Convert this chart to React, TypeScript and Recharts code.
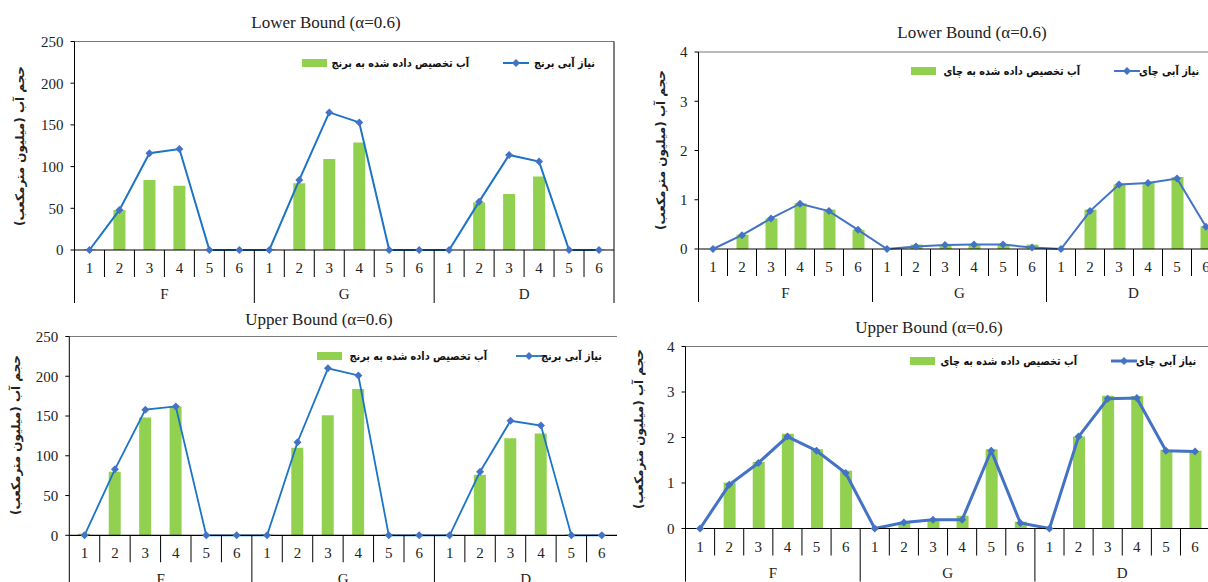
import React from "react";
import { ComposedChart, Bar, Line, XAxis, YAxis, ReferenceLine } from "recharts";

const periods = ["1", "2", "3", "4", "5", "6"];
const farms = ["F", "G", "D"];

const riceLowerAlloc = [1, 48, 84, 77, 0, 0, 1, 80, 109, 129, 0, 1, 0, 57, 67, 88, 0, 1];
const riceLowerNeed = [0, 48, 116, 121, 0, 0, 0, 84, 165, 153, 0, 0, 0, 58, 114, 106, 0, 0];
const teaLowerAlloc = [0, 0.29, 0.62, 0.93, 0.8, 0.39, 0, 0.09, 0.08, 0.08, 0.08, 0.09, 0, 0.8, 1.31, 1.34, 1.46, 0.46];
const teaLowerNeed = [0, 0.28, 0.62, 0.92, 0.77, 0.39, 0, 0.05, 0.08, 0.09, 0.09, 0.03, 0, 0.77, 1.31, 1.34, 1.43, 0.45];
const riceUpperAlloc = [2, 80, 148, 162, 0, 0, 1, 110, 151, 184, 1, 1, 1, 76, 122, 128, 1, 0];
const riceUpperNeed = [0, 83, 158, 162, 0, 0, 0, 117, 210, 201, 0, 0, 0, 80, 144, 138, 0, 0];
const teaUpperAlloc = [0, 1.01, 1.46, 2.08, 1.74, 1.27, 0, 0.12, 0.19, 0.28, 1.74, 0.15, 0, 2.02, 2.92, 2.91, 1.73, 1.71];
const teaUpperNeed = [0, 0.96, 1.44, 2.02, 1.71, 1.22, 0, 0.13, 0.19, 0.19, 1.71, 0.12, 0, 2.02, 2.85, 2.87, 1.71, 1.69];

const riceTicks = [0, 50, 100, 150, 200, 250];
const teaTicks = [0, 1, 2, 3, 4];

const riceAllocLabel = "آب تخصیص داده شده به برنج";
const riceNeedLabel = "نیاز آبی برنج";
const teaAllocLabel = "آب تخصیص داده شده به چای";
const teaNeedLabel = "نیاز آبی چای";
const yLabel = "حجم آب (میلیون مترمکعب)";

const SERIF = "'Liberation Serif', 'Times New Roman', serif";
const ARABIC = "'DejaVu Sans', sans-serif";
const GREEN = "#92D050";

function buildRows(alloc: number[], need: number[]) {
  return farms.flatMap((f, fi) =>
    periods.map((p, pi) => ({
      key: f + p,
      period: p,
      farm: f,
      alloc: alloc[fi * 6 + pi],
      need: need[fi * 6 + pi],
    }))
  );
}

const Diamond = (props: any) => {
  const { cx, cy, r, fill } = props;
  if (cx == null || cy == null) return null;
  return (
    <polygon
      points={`${cx},${cy - r} ${cx + r},${cy} ${cx},${cy + r} ${cx - r},${cy}`}
      fill={fill}
    />
  );
};

function makeTick(rows: any[], bw: number, plotH: number, rightBorder: boolean) {
  return (props: any) => {
    const { x, y, index } = props;
    const row = rows[index];
    if (!row) return <g />;
    const first = index % 6 === 0;
    return (
      <g>
        <text x={x} y={y + 23} textAnchor="middle" fontFamily={SERIF} fontSize={15} fill="#222">
          {row.period}
        </text>
        <line x1={x - bw / 2} x2={x - bw / 2} y1={y} y2={y + (first ? 53 : 27)} stroke="#000" />
        {index % 6 === 3 && (
          <text x={x - bw / 2} y={y + 49} textAnchor="middle" fontFamily={SERIF} fontSize={15} fill="#222">
            {row.farm}
          </text>
        )}
        {rightBorder && index === rows.length - 1 && (
          <line x1={x + bw / 2} x2={x + bw / 2} y1={y - plotH} y2={y + 53} stroke="#000" />
        )}
      </g>
    );
  };
}

interface LegendPos {
  rectX: number;
  y: number;
  allocRight: number;
  lineX: number;
  needRight: number;
}

interface PanelProps {
  left: number;
  top: number;
  width: number;
  plotLeft: number;
  plotRight: number;
  plotTop: number;
  plotBottom: number;
  alloc: number[];
  need: number[];
  ticks: number[];
  lineColor: string;
  lineWidth: number;
  title: string;
  titleX: number;
  titleY: number;
  labelX: number;
  labelY: number;
  legend: LegendPos;
  allocLabel: string;
  needLabel: string;
  rightBorder: boolean;
}

// DejaVu's Arabic is wider than the original's font, so squeeze it a bit
const legendText: React.CSSProperties = {
  position: "absolute",
  transform: "translateY(-50%) scaleX(0.87)",
  transformOrigin: "right center",
  fontFamily: ARABIC,
  fontWeight: "bold",
  fontSize: 11.2,
  color: "#111",
  whiteSpace: "nowrap",
  textAlign: "right",
};

function Panel(p: PanelProps) {
  const rows = buildRows(p.alloc, p.need);
  const yw = 30;
  const axisH = 60;
  const height = p.plotBottom - p.top + axisH;
  const bw = (p.plotRight - p.plotLeft) / rows.length;
  const plotH = p.plotBottom - p.plotTop;
  const max = p.ticks[p.ticks.length - 1];
  const lg = p.legend;
  return (
    <>
      <div style={{ position: "absolute", left: p.left, top: p.top }}>
        <ComposedChart
          width={p.width}
          height={height}
          data={rows}
          margin={{
            top: p.plotTop - p.top,
            left: p.plotLeft - p.left - yw,
            right: p.left + p.width - p.plotRight,
            bottom: 0,
          }}
        >
          <XAxis
            dataKey="key"
            interval={0}
            height={axisH}
            tickLine={false}
            tickSize={0}
            tickMargin={0}
            axisLine={{ stroke: "#000", strokeWidth: 1.2 }}
            tick={makeTick(rows, bw, plotH, p.rightBorder)}
          />
          <YAxis
            width={yw}
            domain={[0, max]}
            ticks={p.ticks}
            interval={0}
            tickSize={4}
            tickMargin={7}
            axisLine={{ stroke: "#000" }}
            tickLine={{ stroke: "#000" }}
            tick={{ fontFamily: SERIF, fontSize: 15, fill: "#222" }}
          />
          <ReferenceLine y={max} stroke="#777" />
          <Bar dataKey="alloc" fill={GREEN} barSize={12} isAnimationActive={false} />
          <Line
            dataKey="need"
            type="linear"
            stroke={p.lineColor}
            strokeWidth={p.lineWidth}
            dot={(d: any) => <Diamond key={d.index} cx={d.cx} cy={d.cy} r={4} fill="#4472C4" />}
            activeDot={false}
            isAnimationActive={false}
          />
        </ComposedChart>
      </div>
      <div
        style={{
          position: "absolute",
          left: p.titleX,
          top: p.titleY,
          transform: "translate(-50%, -50%)",
          fontFamily: SERIF,
          fontSize: 17,
          color: "#222",
          whiteSpace: "nowrap",
        }}
      >
        {p.title}
      </div>
      <div
        dir="rtl"
        style={{
          position: "absolute",
          left: p.labelX,
          top: p.labelY,
          transform: "translate(-50%, -50%) rotate(-90deg)",
          fontFamily: ARABIC,
          fontWeight: "bold",
          fontSize: 12,
          color: "#222",
          whiteSpace: "nowrap",
        }}
      >
        {yLabel}
      </div>
      <div
        style={{
          position: "absolute",
          left: lg.rectX,
          top: lg.y - 4,
          width: 25,
          height: 8,
          background: GREEN,
        }}
      />
      <div dir="rtl" style={{ ...legendText, right: 1208 - lg.allocRight, top: lg.y }}>
        {p.allocLabel}
      </div>
      <svg
        width={26}
        height={10}
        style={{ position: "absolute", left: lg.lineX, top: lg.y - 5 }}
      >
        <line x1={0} x2={26} y1={5} y2={5} stroke={p.lineColor} strokeWidth={p.lineWidth} />
        <polygon points="13,1 17,5 13,9 9,5" fill="#4472C4" />
      </svg>
      <div dir="rtl" style={{ ...legendText, right: 1208 - lg.needRight, top: lg.y }}>
        {p.needLabel}
      </div>
    </>
  );
}

export default function App() {
  return (
    <div
      style={{
        position: "fixed",
        left: 0,
        top: 0,
        width: 1208,
        height: 582,
        overflow: "hidden",
        background: "#fff",
      }}
    >
      <Panel
        left={0}
        top={0}
        width={620}
        plotLeft={74.5}
        plotRight={614}
        plotTop={41.5}
        plotBottom={250}
        alloc={riceLowerAlloc}
        need={riceLowerNeed}
        ticks={riceTicks}
        lineColor="#1C74C6"
        lineWidth={2}
        title="Lower Bound (α=0.6)"
        titleX={326}
        titleY={23}
        labelX={20}
        labelY={146}
        legend={{ rectX: 302, y: 63, allocRight: 469, lineX: 503, needRight: 595 }}
        allocLabel={riceAllocLabel}
        needLabel={riceNeedLabel}
        rightBorder={true}
      />
      <Panel
        left={620}
        top={0}
        width={610}
        plotLeft={698.5}
        plotRight={1220.5}
        plotTop={52}
        plotBottom={249}
        alloc={teaLowerAlloc}
        need={teaLowerNeed}
        ticks={teaTicks}
        lineColor="#4472C4"
        lineWidth={2}
        title="Lower Bound (α=0.6)"
        titleX={972}
        titleY={33}
        labelX={661}
        labelY={150}
        legend={{ rectX: 911, y: 71, allocRight: 1080, lineX: 1114, needRight: 1199 }}
        allocLabel={teaAllocLabel}
        needLabel={teaNeedLabel}
        rightBorder={false}
      />
      <Panel
        left={0}
        top={300}
        width={620}
        plotLeft={69.3}
        plotRight={617}
        plotTop={336.5}
        plotBottom={535.3}
        alloc={riceUpperAlloc}
        need={riceUpperNeed}
        ticks={riceTicks}
        lineColor="#1C74C6"
        lineWidth={1.8}
        title="Upper Bound (α=0.6)"
        titleX={319}
        titleY={320}
        labelX={16}
        labelY={435}
        legend={{ rectX: 317, y: 356, allocRight: 487, lineX: 516, needRight: 602 }}
        allocLabel={riceAllocLabel}
        needLabel={riceNeedLabel}
        rightBorder={false}
      />
      <Panel
        left={620}
        top={300}
        width={595}
        plotLeft={685.5}
        plotRight={1209.6}
        plotTop={346.5}
        plotBottom={528.5}
        alloc={teaUpperAlloc}
        need={teaUpperNeed}
        ticks={teaTicks}
        lineColor="#4472C4"
        lineWidth={3}
        title="Upper Bound (α=0.6)"
        titleX={929}
        titleY={328}
        labelX={639}
        labelY={429}
        legend={{ rectX: 910, y: 361, allocRight: 1077, lineX: 1111, needRight: 1196 }}
        allocLabel={teaAllocLabel}
        needLabel={teaNeedLabel}
        rightBorder={false}
      />
    </div>
  );
}
